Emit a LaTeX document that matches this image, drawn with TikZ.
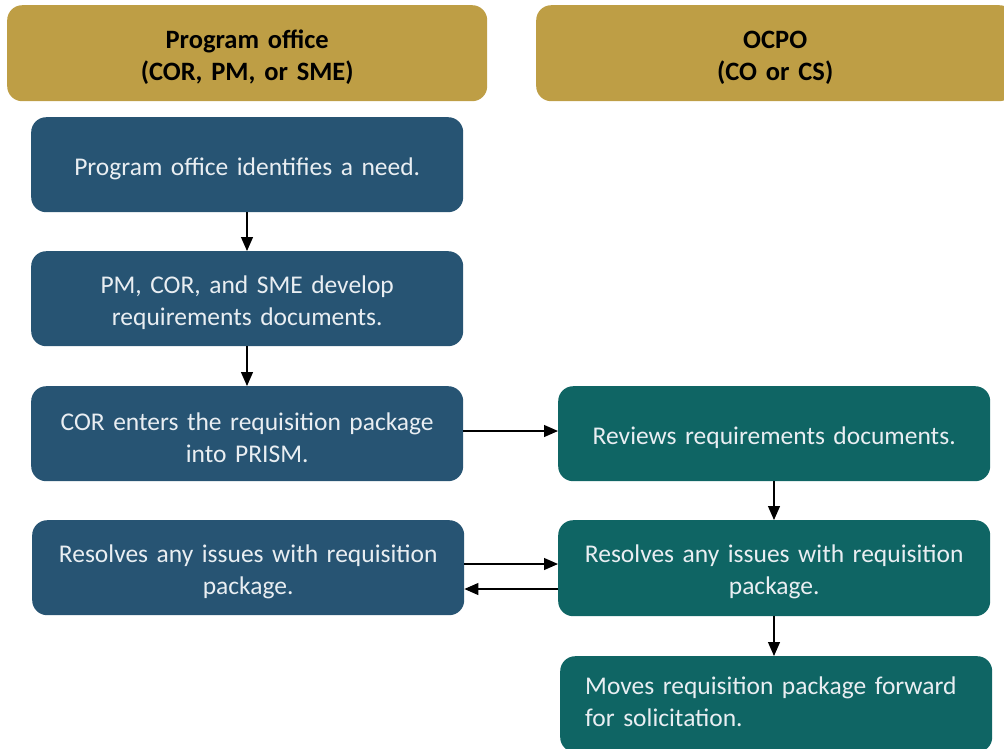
\documentclass[tikz,border=0pt]{standalone}
\usepackage{fontspec}
\setmainfont{Carlito}
\usetikzlibrary{arrows.meta}
\definecolor{laneGold}{HTML}{BE9E45}
\definecolor{progBlue}{HTML}{275473}
\definecolor{ocpoTeal}{HTML}{0F6564}
\definecolor{boxText}{HTML}{E9EEF2}
\tikzset{
  lanehead/.style={fill=laneGold, rounded corners=15pt, draw=none, minimum height=96pt,
    text width=460pt, font=\fontsize{26.5}{32}\selectfont\bfseries, text=black,
    align=center, anchor=north west, execute at begin node={\rule{0pt}{26pt}}},
  progbox/.style={fill=progBlue, rounded corners=15pt, draw=none, minimum width=432pt,
    minimum height=95pt, text width=420pt, align=center, anchor=north west,
    font=\fontsize{25.5}{32}\selectfont, text=boxText,
    execute at begin node={\rule{0pt}{25pt}}},
  ocpobox/.style={progbox, fill=ocpoTeal},
  flow/.style={line width=1.2pt, -{Triangle[length=14pt,width=12pt]}}
}
\begin{document}
\begin{tikzpicture}[x=1pt,y=-1pt]
\useasboundingbox (0,0) rectangle (1004,748);
\clip (0,0) rectangle (1004,748);
% lane headers
\node[lanehead, minimum width=480pt] (hprog) at (7,5) {Program office\\(COR, PM, or SME)};
\node[lanehead, minimum width=478pt] (hocpo) at (536,5) {OCPO\\(CO or CS)};
% program office steps
\node[progbox] (need) at (31,117) {Program office identifies a need.};
\node[progbox] (docs) at (31,251) {PM, COR, and SME develop\\requirements documents.};
\node[progbox] (prism) at (31,386) {COR enters the requisition package\\into PRISM.};
\node[progbox] (fixprog) at (32,520) {Resolves any issues with requisition\\package.};
% OCPO steps
\node[ocpobox] (review) at (558,386) {Reviews requirements documents.};
\node[ocpobox, minimum height=96pt] (fixocpo) at (558,520) {Resolves any issues with requisition\\package.};
% last step runs past the lower edge of the page
\node[ocpobox, minimum height=96pt, align=left, text width=382pt, inner xsep=25pt]
  (forward) at (560,656) {Moves requisition package forward\\for solicitation.\rule[-12pt]{0pt}{0pt}};
% connectors
\draw[flow] (need.south -| 247,0) -- (docs.north -| 247,0);
\draw[flow] (docs.south -| 247,0) -- (prism.north -| 247,0);
\draw[flow] (prism.east |- 0,431) -- (review.west |- 0,431);
\draw[flow] (review.south -| 774,0) -- (fixocpo.north -| 774,0);
\draw[flow] (fixprog.east |- 0,564) -- (fixocpo.west |- 0,564);
\draw[flow] (fixocpo.west |- 0,589) -- (fixprog.east |- 0,589);
\draw[flow] (fixocpo.south -| 774,0) -- (forward.north -| 774,0);
\end{tikzpicture}
\end{document}
